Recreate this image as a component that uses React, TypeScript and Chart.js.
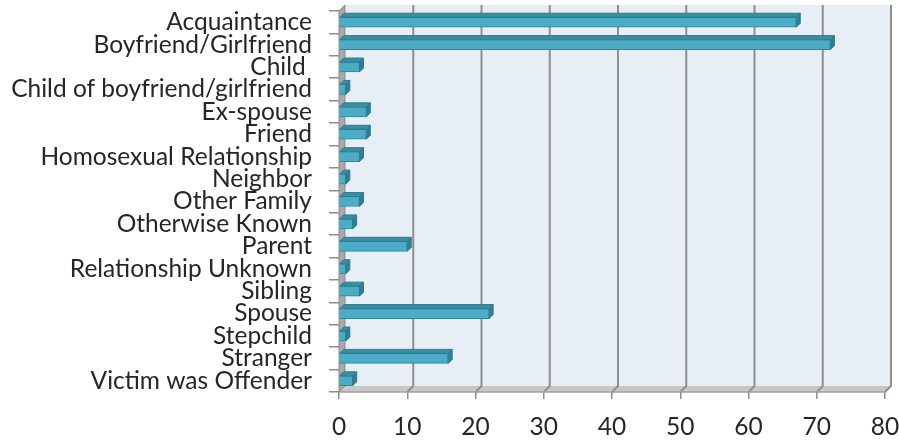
import React, { useEffect, useRef } from "react";
import { Chart, registerables } from "chart.js";

Chart.register(...registerables);

const categories = [
  "Acquaintance",
  "Boyfriend/Girlfriend",
  "Child ",
  "Child of boyfriend/girlfriend",
  "Ex-spouse",
  "Friend",
  "Homosexual Relationship",
  "Neighbor",
  "Other Family",
  "Otherwise Known",
  "Parent",
  "Relationship Unknown",
  "Sibling",
  "Spouse",
  "Stepchild",
  "Stranger",
  "Victim was Offender",
];
const counts = [67, 72, 3, 1, 4, 4, 3, 1, 3, 2, 10, 1, 3, 22, 1, 16, 2];
const xMin = 0;
const xMax = 80;
const xStep = 10;

const FONT = "Lato, 'Open Sans', sans-serif";

const threeD = {
  id: "threeD",
  beforeDatasetsDraw(chart: any) {
    const { ctx, chartArea } = chart;
    const xs = chart.scales.x;
    const dx = 6;
    const dy = -6;
    const left = chartArea.left;
    const right = chartArea.right;
    const top = chartArea.top;
    const bottom = chartArea.bottom;
    ctx.save();
    // back wall
    ctx.fillStyle = "#e8eef6";
    ctx.fillRect(left + dx, top + dy, right - left, bottom - top);
    // floor
    ctx.beginPath();
    ctx.moveTo(left, bottom);
    ctx.lineTo(left + dx, bottom + dy);
    ctx.lineTo(right + dx, bottom + dy);
    ctx.lineTo(right, bottom);
    ctx.closePath();
    ctx.fillStyle = "#c8c8c8";
    ctx.fill();
    // gridlines on back wall and floor
    ctx.strokeStyle = "#8f8f8f";
    ctx.lineWidth = 2;
    for (let v = xMin + xStep; v <= xMax; v += xStep) {
      const px = xs.getPixelForValue(v);
      ctx.beginPath();
      ctx.moveTo(px + dx, top + dy);
      ctx.lineTo(px + dx, bottom + dy);
      ctx.lineTo(px, bottom);
      ctx.stroke();
    }
    // floor front edge
    ctx.strokeStyle = "#a0a0a0";
    ctx.lineWidth = 1.5;
    ctx.beginPath();
    ctx.moveTo(left, bottom);
    ctx.lineTo(right, bottom);
    ctx.stroke();
    // left side wall
    ctx.beginPath();
    ctx.moveTo(left, top);
    ctx.lineTo(left + dx, top + dy);
    ctx.lineTo(left + dx, bottom + dy);
    ctx.lineTo(left, bottom);
    ctx.closePath();
    ctx.fillStyle = "#a9a9a9";
    ctx.fill();
    ctx.strokeStyle = "#8c8c8c";
    ctx.lineWidth = 1;
    ctx.stroke();
    ctx.restore();
  },
  afterDatasetsDraw(chart: any) {
    const { ctx } = chart;
    const meta = chart.getDatasetMeta(0);
    const d = 4;
    ctx.save();
    ctx.lineWidth = 1;
    meta.data.forEach((bar: any) => {
      const p = bar.getProps(["x", "y", "base", "height"], true);
      const t = p.y - p.height / 2;
      const b = p.y + p.height / 2;
      // top face
      ctx.beginPath();
      ctx.moveTo(p.base, t);
      ctx.lineTo(p.base + d, t - d);
      ctx.lineTo(p.x + d, t - d);
      ctx.lineTo(p.x, t);
      ctx.closePath();
      ctx.fillStyle = "#3b8da1";
      ctx.fill();
      ctx.strokeStyle = "#2e7d90";
      ctx.stroke();
      // right face
      ctx.beginPath();
      ctx.moveTo(p.x, t);
      ctx.lineTo(p.x + d, t - d);
      ctx.lineTo(p.x + d, b - d);
      ctx.lineTo(p.x, b);
      ctx.closePath();
      ctx.fillStyle = "#2f7f93";
      ctx.fill();
      ctx.stroke();
    });
    ctx.restore();
  },
};

export default function App() {
  const ref = useRef<HTMLCanvasElement | null>(null);
  useEffect(() => {
    if (!ref.current) return;
    const chart = new Chart(ref.current, {
      type: "bar",
      data: {
        labels: categories,
        datasets: [
          {
            data: counts,
            backgroundColor: "#4bacc6",
            borderColor: "#31849b",
            borderWidth: 1,
            barThickness: 10,
          },
        ],
      },
      options: {
        indexAxis: "y",
        animation: false,
        responsive: false,
        layout: { padding: { top: 11, right: 14, left: 0, bottom: 0 } },
        plugins: { legend: { display: false }, tooltip: { enabled: false } },
        scales: {
          x: {
            min: xMin,
            max: xMax,
            ticks: {
              stepSize: xStep,
              color: "#262626",
              font: { family: FONT, size: 24.5 },
              padding: 13,
              maxRotation: 0,
            },
            grid: {
              drawOnChartArea: false,
              drawTicks: true,
              tickLength: 7,
              color: "#8c8c8c",
              lineWidth: 1.5,
            },
            border: { display: false },
            afterFit: (s: any) => {
              s.height = 49;
              s.paddingLeft = 0;
              s.paddingRight = 0;
            },
          },
          y: {
            ticks: {
              color: "#262626",
              font: { family: FONT, size: 24.5 },
              padding: 17,
              autoSkip: false,
            },
            grid: {
              drawOnChartArea: false,
              drawTicks: true,
              tickLength: 10,
              color: "#8c8c8c",
              lineWidth: 1.5,
              offset: true,
            },
            border: { display: false },
            afterFit: (s: any) => {
              s.width = 339;
              s.paddingTop = 0;
              s.paddingBottom = 0;
            },
          },
        },
      },
      plugins: [threeD],
    });
    return () => chart.destroy();
  }, []);
  return (
    <canvas
      ref={ref}
      width={899}
      height={441}
      style={{ position: "fixed", left: 0, top: 0, width: 899, height: 441, background: "#ffffff" }}
    />
  );
}
